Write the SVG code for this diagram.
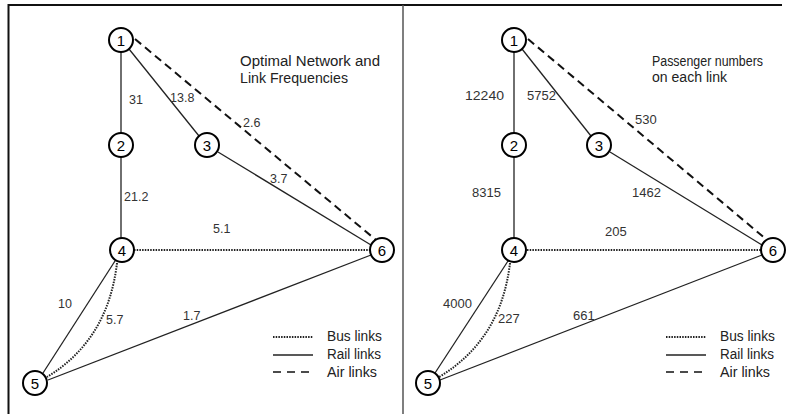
<svg xmlns="http://www.w3.org/2000/svg" width="786" height="414" viewBox="0 0 786 414">
<style>
.frame{stroke:#111;stroke-width:2;fill:none}
.div{stroke:#555;stroke-width:1.5;fill:none}
.node circle{fill:#fff;stroke:#000;stroke-width:2}
.node text{font-family:"Liberation Sans",Arial,sans-serif;font-size:15px;fill:#000;text-anchor:middle}
.rail{stroke:#222;stroke-width:1.3;fill:none}
.air{stroke:#111;stroke-width:2;stroke-dasharray:8 5;fill:none}
.bus{stroke:#222;stroke-width:2;stroke-dasharray:1.5 1.2;fill:none}
.lbl{font-family:"Liberation Sans",Arial,sans-serif;font-size:12.5px;fill:#333}
.lblr{font-family:"Liberation Sans",Arial,sans-serif;font-size:13px;fill:#333}
.title{font-family:"Liberation Sans",Arial,sans-serif;font-size:14px;fill:#222}
.leg{font-family:"Liberation Sans",Arial,sans-serif;font-size:14px;fill:#222}
</style>
<rect width="786" height="414" fill="#fff"/>
<path class="frame" d="M8.5,414 V5 H782"/>
<path class="div" d="M403,5 V414"/>

<g id="connectors">
  <!-- left panel -->
  <line class="rail" x1="121" y1="52" x2="121" y2="133"/>
  <line class="rail" x1="121" y1="157" x2="121" y2="238"/>
  <line class="rail" x1="129" y1="49" x2="199" y2="136"/>
  <line class="rail" x1="218" y1="152" x2="371" y2="245"/>
  <line class="air" x1="135" y1="39" x2="376" y2="240"/>
  <line class="bus" x1="134" y1="250" x2="370" y2="250"/>
  <line class="rail" x1="115" y1="261" x2="43" y2="373"/>
  <path class="bus" d="M117,263 Q108,340 47,377"/>
  <line class="rail" x1="48" y1="380" x2="371" y2="255"/>
  <!-- right panel -->
  <line class="rail" x1="514" y1="52" x2="514" y2="133"/>
  <line class="rail" x1="514" y1="157" x2="514" y2="238"/>
  <line class="rail" x1="522" y1="49" x2="591" y2="136"/>
  <line class="rail" x1="610" y1="152" x2="762" y2="245"/>
  <line class="air" x1="528" y1="39" x2="767" y2="240"/>
  <line class="bus" x1="527" y1="250" x2="761" y2="250"/>
  <line class="rail" x1="508" y1="261" x2="435" y2="373"/>
  <path class="bus" d="M510,263 Q501,340 439,377"/>
  <line class="rail" x1="440" y1="380" x2="762" y2="255"/>
  <!-- legends -->
  <line class="bus" x1="273" y1="337" x2="313" y2="337"/>
  <line class="rail" x1="273" y1="355" x2="313" y2="355"/>
  <line class="air" x1="273" y1="372" x2="313" y2="372" style="stroke-width:1.5;stroke-dasharray:8 6"/>
  <line class="bus" x1="666" y1="337" x2="706" y2="337"/>
  <line class="rail" x1="666" y1="355" x2="706" y2="355"/>
  <line class="air" x1="666" y1="372" x2="706" y2="372" style="stroke-width:1.5;stroke-dasharray:8 6"/>
</g>

<g id="L1" class="node"><circle cx="121" cy="40" r="12"/><text x="121" y="45.5">1</text></g>
<g id="L2" class="node"><circle cx="121" cy="145" r="12"/><text x="121" y="150.5">2</text></g>
<g id="L3" class="node"><circle cx="207" cy="145" r="12"/><text x="207" y="150.5">3</text></g>
<g id="L4" class="node"><circle cx="122" cy="250" r="12"/><text x="122" y="255.5">4</text></g>
<g id="L5" class="node"><circle cx="35" cy="383" r="12"/><text x="35" y="388.5">5</text></g>
<g id="L6" class="node"><circle cx="382" cy="250" r="12"/><text x="382" y="255.5">6</text></g>

<g id="R1" class="node"><circle cx="514" cy="40" r="12"/><text x="514" y="45.5">1</text></g>
<g id="R2" class="node"><circle cx="514" cy="145" r="12"/><text x="514" y="150.5">2</text></g>
<g id="R3" class="node"><circle cx="599" cy="145" r="12"/><text x="599" y="150.5">3</text></g>
<g id="R4" class="node"><circle cx="514" cy="250" r="12"/><text x="514" y="255.5">4</text></g>
<g id="R5" class="node"><circle cx="428" cy="383" r="12"/><text x="428" y="388.5">5</text></g>
<g id="R6" class="node"><circle cx="773" cy="250" r="12"/><text x="773" y="255.5">6</text></g>

<g id="labels">
  <text class="title" x="240" y="66" textLength="140" lengthAdjust="spacingAndGlyphs">Optimal Network and</text>
  <text class="title" x="240" y="83" textLength="108" lengthAdjust="spacingAndGlyphs">Link Frequencies</text>
  <text class="lbl" x="129" y="104">31</text>
  <text class="lbl" x="170" y="102">13.8</text>
  <text class="lbl" x="243" y="127">2.6</text>
  <text class="lbl" x="270" y="183">3.7</text>
  <text class="lbl" x="124" y="201">21.2</text>
  <text class="lbl" x="213" y="233">5.1</text>
  <text class="lbl" x="58" y="308">10</text>
  <text class="lbl" x="106" y="324">5.7</text>
  <text class="lbl" x="183" y="320">1.7</text>
  <text class="leg" x="327" y="341" textLength="55" lengthAdjust="spacingAndGlyphs">Bus links</text>
  <text class="leg" x="327" y="359" textLength="54" lengthAdjust="spacingAndGlyphs">Rail links</text>
  <text class="leg" x="327" y="377" textLength="50" lengthAdjust="spacingAndGlyphs">Air links</text>

  <text class="title" x="652" y="66" textLength="111" lengthAdjust="spacingAndGlyphs">Passenger numbers</text>
  <text class="title" x="652" y="82" textLength="75" lengthAdjust="spacingAndGlyphs">on each link</text>
  <text class="lblr" x="465" y="100" textLength="39" lengthAdjust="spacingAndGlyphs">12240</text>
  <text class="lblr" x="527" y="100">5752</text>
  <text class="lblr" x="635" y="124">530</text>
  <text class="lblr" x="472" y="197">8315</text>
  <text class="lblr" x="632" y="197">1462</text>
  <text class="lblr" x="605" y="236">205</text>
  <text class="lblr" x="443" y="308">4000</text>
  <text class="lblr" x="498" y="323">227</text>
  <text class="lblr" x="573" y="320">661</text>
  <text class="leg" x="720" y="341" textLength="55" lengthAdjust="spacingAndGlyphs">Bus links</text>
  <text class="leg" x="720" y="359" textLength="54" lengthAdjust="spacingAndGlyphs">Rail links</text>
  <text class="leg" x="720" y="377" textLength="50" lengthAdjust="spacingAndGlyphs">Air links</text>
</g>
</svg>
